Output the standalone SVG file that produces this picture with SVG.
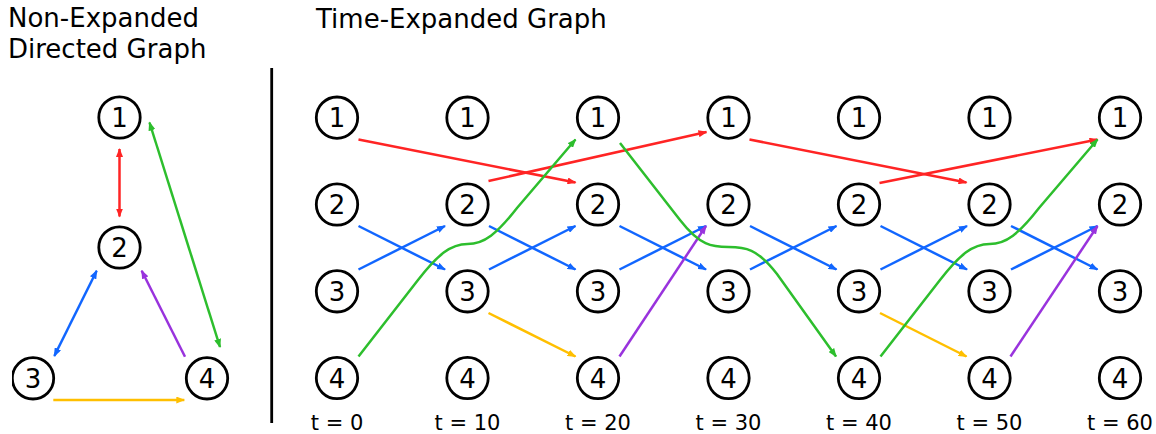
<svg xmlns="http://www.w3.org/2000/svg" width="1156" height="434" viewBox="0 0 1156 434">
<style>
.node circle{fill:#fff;stroke:#000;stroke-width:2.8}
.node text{font-family:"DejaVu Sans",sans-serif;font-size:26px;text-anchor:middle;fill:#000}
.title{font-family:"DejaVu Sans",sans-serif;font-size:26px;fill:#000}
.tl{font-family:"DejaVu Sans",sans-serif;font-size:21px;fill:#000;text-anchor:middle}
.e{fill:none;stroke-width:2.5}
.r{stroke:#ff2424}.b{stroke:#1166ff}.g{stroke:#2dbe2d}.y{stroke:#ffbf00}.p{stroke:#9933dd}
.r{marker-end:url(#mr)}.b{marker-end:url(#mb)}.g{marker-end:url(#mg)}.y{marker-end:url(#my)}.p{marker-end:url(#mp)}
.r.d{marker-start:url(#mr)}.b.d{marker-start:url(#mb)}.g.d{marker-start:url(#mg)}
</style>
<defs>
<marker id="mr" viewBox="0 0 9 7" refX="8" refY="3.5" markerWidth="9" markerHeight="7" markerUnits="userSpaceOnUse" orient="auto-start-reverse"><path d="M0,0L9,3.5L0,7Z" fill="#ff2424"/></marker>
<marker id="mb" viewBox="0 0 9 7" refX="8" refY="3.5" markerWidth="9" markerHeight="7" markerUnits="userSpaceOnUse" orient="auto-start-reverse"><path d="M0,0L9,3.5L0,7Z" fill="#1166ff"/></marker>
<marker id="mg" viewBox="0 0 9 7" refX="8" refY="3.5" markerWidth="9" markerHeight="7" markerUnits="userSpaceOnUse" orient="auto-start-reverse"><path d="M0,0L9,3.5L0,7Z" fill="#2dbe2d"/></marker>
<marker id="my" viewBox="0 0 9 7" refX="8" refY="3.5" markerWidth="9" markerHeight="7" markerUnits="userSpaceOnUse" orient="auto-start-reverse"><path d="M0,0L9,3.5L0,7Z" fill="#ffbf00"/></marker>
<marker id="mp" viewBox="0 0 9 7" refX="8" refY="3.5" markerWidth="9" markerHeight="7" markerUnits="userSpaceOnUse" orient="auto-start-reverse"><path d="M0,0L9,3.5L0,7Z" fill="#9933dd"/></marker>
<clipPath id="lc"><rect x="12" y="0" width="1144" height="434"/></clipPath>
</defs>
<rect width="1156" height="434" fill="#fff"/>
<text class="title" x="8" y="26.8">Non-Expanded</text>
<text class="title" x="8" y="57.5">Directed Graph</text>
<text class="title" x="316" y="28">Time-Expanded Graph</text>
<line x1="271.7" y1="68" x2="271.7" y2="423" stroke="#000" stroke-width="2.8"/>

<g id="connectors">
<!-- left graph -->
<line class="e r d" x1="119.5" y1="149" x2="119.5" y2="216.5"/>
<line class="e g d" x1="149.5" y1="122.5" x2="220" y2="347"/>
<line class="e b d" x1="96.7" y1="270.7" x2="54.3" y2="356"/>
<line class="e p" x1="185" y1="356.7" x2="141.7" y2="270.7"/>
<line class="e y" x1="53.3" y1="400" x2="184.3" y2="400"/>
<!-- red -->
<line class="e r" x1="358.5" y1="139.5" x2="575.5" y2="182.5"/>
<line class="e r" x1="488.5" y1="181" x2="706.5" y2="132"/>
<line class="e r" x1="749.5" y1="139.5" x2="966.5" y2="182.5"/>
<line class="e r" x1="879.5" y1="183" x2="1097.5" y2="139.5"/>
<!-- blue -->
<line class="e b" x1="358.5" y1="226" x2="445" y2="269.5"/>
<line class="e b" x1="358.5" y1="269.5" x2="445" y2="226"/>
<line class="e b" x1="489" y1="226" x2="575.5" y2="269.5"/>
<line class="e b" x1="489" y1="269.5" x2="575.5" y2="226"/>
<line class="e b" x1="619.5" y1="226" x2="706" y2="269.5"/>
<line class="e b" x1="619.5" y1="269.5" x2="706" y2="226"/>
<line class="e b" x1="750" y1="226" x2="836.5" y2="269.5"/>
<line class="e b" x1="750" y1="269.5" x2="836.5" y2="226"/>
<line class="e b" x1="880.5" y1="226" x2="967" y2="269.5"/>
<line class="e b" x1="880.5" y1="269.5" x2="967" y2="226"/>
<line class="e b" x1="1011" y1="226" x2="1097.5" y2="269.5"/>
<line class="e b" x1="1011" y1="269.5" x2="1097.5" y2="226"/>
<!-- yellow -->
<line class="e y" x1="488.5" y1="313" x2="575.5" y2="356.5"/>
<line class="e y" x1="880" y1="313" x2="966.5" y2="356.5"/>
<!-- purple -->
<line class="e p" x1="619.5" y1="356.5" x2="706" y2="226"/>
<line class="e p" x1="1010.5" y1="356.5" x2="1097.5" y2="226"/>
<!-- green -->
<path class="e g" d="M358.5,356.5 L418,280 C438,254.3 451,244 467.5,244 C484,244 497,233.7 517,208 L575.5,139.5"/>
<path class="e g" d="M620,143 L680,220 C700,245.7 712,247 728.5,247 C745,247 757,248.3 777,274 L836,356.5"/>
<path class="e g" d="M880.5,356.5 L940,280 C960,254.3 973,244 989.5,244 C1006,244 1019,233.7 1039,208 L1097.5,139.5"/>
</g>

<g id="L1" class="node"><circle cx="119.5" cy="117.5" r="20.7"/><text x="119.5" y="127">1</text></g>
<g id="L2" class="node"><circle cx="119.5" cy="247.5" r="20.7"/><text x="119.5" y="257">2</text></g>
<g id="L3" class="node" clip-path="url(#lc)"><circle cx="33" cy="378.3" r="20.7"/><text x="33" y="387.8">3</text></g>
<g id="L4" class="node"><circle cx="207" cy="378.3" r="20.7"/><text x="207" y="387.8">4</text></g>

<g id="t0n1" class="node"><circle cx="337" cy="117.7" r="20.7"/><text x="337" y="127.2">1</text></g>
<g id="t0n2" class="node"><circle cx="337" cy="204.5" r="20.7"/><text x="337" y="214">2</text></g>
<g id="t0n3" class="node"><circle cx="337" cy="291.3" r="20.7"/><text x="337" y="300.8">3</text></g>
<g id="t0n4" class="node"><circle cx="337" cy="378" r="20.7"/><text x="337" y="387.5">4</text></g>

<g id="t10n1" class="node"><circle cx="467.5" cy="117.7" r="20.7"/><text x="467.5" y="127.2">1</text></g>
<g id="t10n2" class="node"><circle cx="467.5" cy="204.5" r="20.7"/><text x="467.5" y="214">2</text></g>
<g id="t10n3" class="node"><circle cx="467.5" cy="291.3" r="20.7"/><text x="467.5" y="300.8">3</text></g>
<g id="t10n4" class="node"><circle cx="467.5" cy="378" r="20.7"/><text x="467.5" y="387.5">4</text></g>

<g id="t20n1" class="node"><circle cx="598" cy="117.7" r="20.7"/><text x="598" y="127.2">1</text></g>
<g id="t20n2" class="node"><circle cx="598" cy="204.5" r="20.7"/><text x="598" y="214">2</text></g>
<g id="t20n3" class="node"><circle cx="598" cy="291.3" r="20.7"/><text x="598" y="300.8">3</text></g>
<g id="t20n4" class="node"><circle cx="598" cy="378" r="20.7"/><text x="598" y="387.5">4</text></g>

<g id="t30n1" class="node"><circle cx="728.5" cy="117.7" r="20.7"/><text x="728.5" y="127.2">1</text></g>
<g id="t30n2" class="node"><circle cx="728.5" cy="204.5" r="20.7"/><text x="728.5" y="214">2</text></g>
<g id="t30n3" class="node"><circle cx="728.5" cy="291.3" r="20.7"/><text x="728.5" y="300.8">3</text></g>
<g id="t30n4" class="node"><circle cx="728.5" cy="378" r="20.7"/><text x="728.5" y="387.5">4</text></g>

<g id="t40n1" class="node"><circle cx="859" cy="117.7" r="20.7"/><text x="859" y="127.2">1</text></g>
<g id="t40n2" class="node"><circle cx="859" cy="204.5" r="20.7"/><text x="859" y="214">2</text></g>
<g id="t40n3" class="node"><circle cx="859" cy="291.3" r="20.7"/><text x="859" y="300.8">3</text></g>
<g id="t40n4" class="node"><circle cx="859" cy="378" r="20.7"/><text x="859" y="387.5">4</text></g>

<g id="t50n1" class="node"><circle cx="989.5" cy="117.7" r="20.7"/><text x="989.5" y="127.2">1</text></g>
<g id="t50n2" class="node"><circle cx="989.5" cy="204.5" r="20.7"/><text x="989.5" y="214">2</text></g>
<g id="t50n3" class="node"><circle cx="989.5" cy="291.3" r="20.7"/><text x="989.5" y="300.8">3</text></g>
<g id="t50n4" class="node"><circle cx="989.5" cy="378" r="20.7"/><text x="989.5" y="387.5">4</text></g>

<g id="t60n1" class="node"><circle cx="1120" cy="117.7" r="20.7"/><text x="1120" y="127.2">1</text></g>
<g id="t60n2" class="node"><circle cx="1120" cy="204.5" r="20.7"/><text x="1120" y="214">2</text></g>
<g id="t60n3" class="node"><circle cx="1120" cy="291.3" r="20.7"/><text x="1120" y="300.8">3</text></g>
<g id="t60n4" class="node"><circle cx="1120" cy="378" r="20.7"/><text x="1120" y="387.5">4</text></g>

<g id="tlabels">
<text class="tl" x="337" y="430">t = 0</text>
<text class="tl" x="467.5" y="430">t = 10</text>
<text class="tl" x="598" y="430">t = 20</text>
<text class="tl" x="728.5" y="430">t = 30</text>
<text class="tl" x="859" y="430">t = 40</text>
<text class="tl" x="989.5" y="430">t = 50</text>
<text class="tl" x="1120" y="430">t = 60</text>
</g>
</svg>
